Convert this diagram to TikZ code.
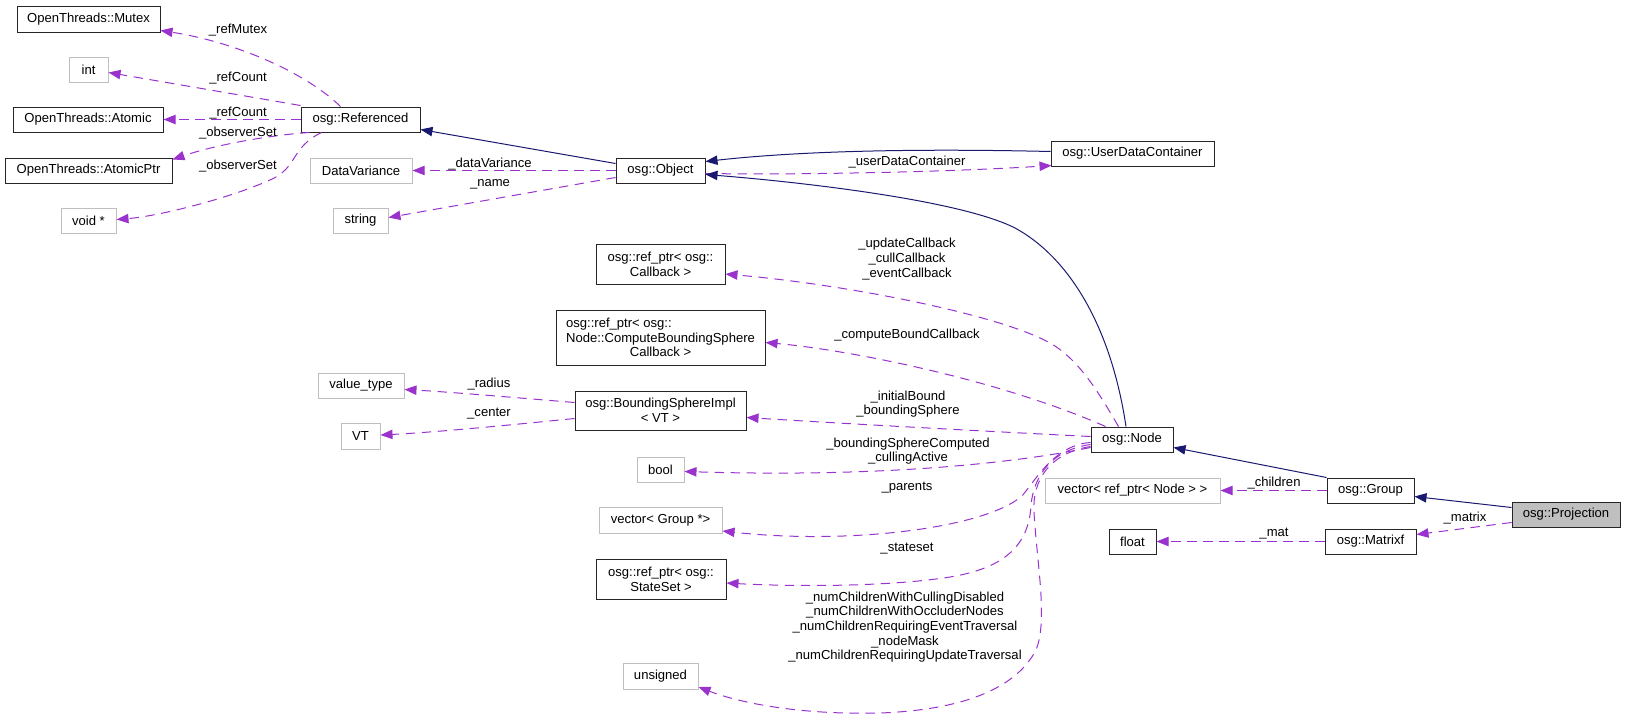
\documentclass[tikz,border=0pt]{standalone}
\usepackage{fontspec}
\setmainfont{Liberation Sans}
\usetikzlibrary{arrows.meta,calc}
\definecolor{dvio}{HTML}{9A32CD}
\definecolor{mblue}{HTML}{191970}
\definecolor{gbord}{HTML}{BFBFBF}
\definecolor{gfill}{HTML}{BFBFBF}
\newcommand\dgfont{\fontsize{9.8pt}{11pt}\selectfont}
\begin{document}
\begin{tikzpicture}[x=0.75pt,y=-0.75pt,
  sz/.style 2 args={minimum width=#1*0.75pt,minimum height=#2*0.75pt},
  box/.style={draw=black!85,line width=0.75pt,inner sep=0pt,align=center,font=\dgfont},
  ext/.style={box,draw=gbord},
  lab/.style={inner sep=0pt,align=center,font=\dgfont},
  dep/.style={draw=dvio,line width=0.75pt,dash pattern=on 7pt off 5pt,-{Triangle[length=9pt,width=7pt,fill=dvio]}},
  inh/.style={draw=mblue,line width=0.75pt,-{Triangle[length=9pt,width=7pt,fill=mblue]}}]
\useasboundingbox (0,0) rectangle (1627,721);
% nodes
\node[box,sz={143}{26}] (mutex) at (88.5,19) {OpenThreads::Mutex};
\node[ext,sz={39}{25}] (int) at (88.5,69.5) {int};
\node[box,sz={150}{25}] (atomic) at (88,119.5) {OpenThreads::Atomic};
\node[box,sz={167}{25}] (atomicptr) at (88.5,170.5) {OpenThreads::AtomicPtr};
\node[ext,sz={55}{25}] (voidp) at (88.5,220.5) {void *};
\node[box,sz={119}{25}] (ref) at (360.5,119.5) {osg::Referenced};
\node[ext,sz={102}{25}] (dv) at (361,170.5) {DataVariance};
\node[ext,sz={55}{25}] (string) at (360.5,220.5) {string};
\node[box,sz={89}{25}] (obj) at (660.5,170.5) {osg::Object};
\node[box,sz={163}{25}] (udc) at (1132.5,153.5) {osg::UserDataContainer};
\node[box,sz={129}{40}] (cb) at (660.5,264) {osg::ref\_ptr< osg::\\Callback >};
\node[box,sz={209}{55}] (cbs) at (660.5,337.5) {\rlap{osg::ref\_ptr< osg::}\phantom{Node::ComputeBoundingSphere}\\Node::ComputeBoundingSphere\\Callback >};
\node[box,sz={171}{39}] (bsi) at (660.5,410.5) {osg::BoundingSphereImpl\\< VT >};
\node[ext,sz={86}{25}] (vtype) at (361,385.5) {value\_type};
\node[ext,sz={39}{26}] (vt) at (360.5,436) {VT};
\node[ext,sz={47}{25}] (bool) at (660.5,469.5) {bool};
\node[ext,sz={123}{26}] (vgroup) at (660.5,520) {vector< Group *>};
\node[box,sz={130}{40}] (ss) at (661,579) {osg::ref\_ptr< osg::\\StateSet >};
\node[ext,sz={75}{26}] (unsigned) at (660.5,676) {unsigned};
\node[box,sz={82}{25}] (node) at (1132,439.5) {osg::Node};
\node[ext,sz={175}{25}] (vrefnode) at (1132.5,490.5) {vector< ref\_ptr< Node > >};
\node[box,sz={47}{25}] (float) at (1132.5,541.5) {float};
\node[box,sz={87}{25}] (group) at (1370.5,490.5) {osg::Group};
\node[box,sz={91}{25}] (matrixf) at (1370.5,541.5) {osg::Matrixf};
\node[box,sz={108}{25},fill=gfill] (proj) at (1566,514.5) {osg::Projection};
% edges: Referenced
\draw[dep] ($(ref.north)+(-20,0)$) .. controls (305,72) and (235,42) .. ($(mutex.south east)+(0,-2)$);
\draw[dep] ($(ref.north west)+(0,-1)$) -- ($(int.east)+(0,3)$);
\draw[dep] (ref.west) -- (atomic.east);
\draw[dep] ($(ref.south west)+(9,0)$) .. controls (270,135) and (215,145) .. ($(atomicptr.north east)+(0,2)$);
\draw[dep] ($(ref.south west)+(21,0)$) .. controls (290,148) and (298,168) .. (270,180) .. controls (230,198) and (160,216) .. ($(voidp.east)+(0,-1)$);
% Object
\draw[inh] ($(obj.west)+(0,-7)$) -- ($(ref.east)+(0,10)$);
\draw[dep] (obj.west) -- (dv.east);
\draw[dep] ($(obj.west)+(0,7)$) -- ($(string.east)+(0,-3)$);
\draw[inh] ($(udc.west)+(0,-2)$) .. controls (900,148) and (790,152) .. ($(obj.east)+(0,-9)$);
\draw[dep] ($(obj.east)+(0,3)$) .. controls (800,175) and (950,172) .. ($(udc.south west)+(1,-1)$);
\draw[inh] ($(node.north)+(-6,0)$) .. controls (1110,320) and (1065,255) .. (1015,228) .. controls (960,200) and (800,182) .. ($(obj.east)+(0,4)$);
% Projection, Group
\draw[inh] ($(proj.west)+(0,-7)$) -- ($(group.east)+(0,6)$);
\draw[inh] (group.north west) -- ($(node.east)+(0,8)$);
\draw[dep] (group.west) -- (vrefnode.east);
\draw[dep] ($(proj.west)+(0,8)$) -- ($(matrixf.east)+(0,-7)$);
\draw[dep] (matrixf.west) -- (float.east);
% Node
\draw[dep] ($(node.north west)+(28,0)$) .. controls (1100,395) and (1080,360) .. (1050,343) .. controls (1000,315) and (850,285) .. ($(cb.east)+(0,10)$);
\draw[dep] ($(node.north west)+(15,0)$) .. controls (1000,380) and (850,350) .. ($(cbs.east)+(0,5)$);
\draw[dep] ($(node.west)+(0,-3)$) .. controls (1000,432) and (850,424) .. ($(bsi.east)+(0,7)$);
\draw[dep] ($(node.west)+(0,8)$) .. controls (1030,460) and (900,478) .. ($(bool.east)+(0,2)$);
\draw[dep] ($(node.west)+(0,3)$) .. controls (1055,445) and (1037,478) .. (1022,496) .. controls (985,528) and (850,545) .. ($(vgroup.east)+(0,11)$);
\draw[dep] ($(node.west)+(0,5)$) .. controls (1052,450) and (1034,475) .. (1031,505) .. controls (1029,545) and (1005,568) .. (950,577) .. controls (880,588) and (780,586) .. ($(ss.east)+(0,4)$);
\draw[dep] ($(node.west)+(0,7)$) .. controls (1050,453) and (1032,480) .. (1034,512) .. controls (1037,565) and (1048,620) .. (1036,650) .. controls (1015,690) and (960,710) .. (880,713) .. controls (800,715) and (740,703) .. ($(unsigned.east)+(0,11)$);
% BoundingSphereImpl
\draw[dep] ($(bsi.west)+(0,-8)$) .. controls (520,398) and (450,392) .. ($(vtype.east)+(0,4)$);
\draw[dep] ($(bsi.west)+(0,8)$) .. controls (520,424) and (440,432) .. ($(vt.east)+(0,-1)$);
% labels
\node[lab] (l1) at (238,30) {\_refMutex};
\node[lab] (l2) at (238,78) {\_refCount};
\node[lab] (l3) at (238,113) {\_refCount};
\node[lab] (l4) at (238,133) {\_observerSet};
\node[lab] (l5) at (238,166) {\_observerSet};
\node[lab] (l6) at (490,164) {\_dataVariance};
\node[lab] (l7) at (490,184) {\_name};
\node[lab] (l8) at (907,162) {\_userDataContainer};
\node[lab] (l9) at (907,259) {\_updateCallback\\\_cullCallback\\\_eventCallback};
\node[lab] (l10) at (907,335) {\_computeBoundCallback};
\node[lab] (l11) at (908,404) {\_initialBound\\\_boundingSphere};
\node[lab] (l12) at (908,451) {\_boundingSphereComputed\\\_cullingActive};
\node[lab] (l13) at (907,488) {\_parents};
\node[lab] (l14) at (907,549) {\_stateset};
\node[lab] (l15) at (905,627) {\_numChildrenWithCullingDisabled\\\_numChildrenWithOccluderNodes\\\_numChildrenRequiringEventTraversal\\\_nodeMask\\\_numChildrenRequiringUpdateTraversal};
\node[lab] (l16) at (1274,483) {\_children};
\node[lab] (l17) at (1465,518) {\_matrix};
\node[lab] (l18) at (1274,534) {\_mat};
\node[lab] (l19) at (489,384) {\_radius};
\node[lab] (l20) at (489,414) {\_center};
\end{tikzpicture}
\end{document}
